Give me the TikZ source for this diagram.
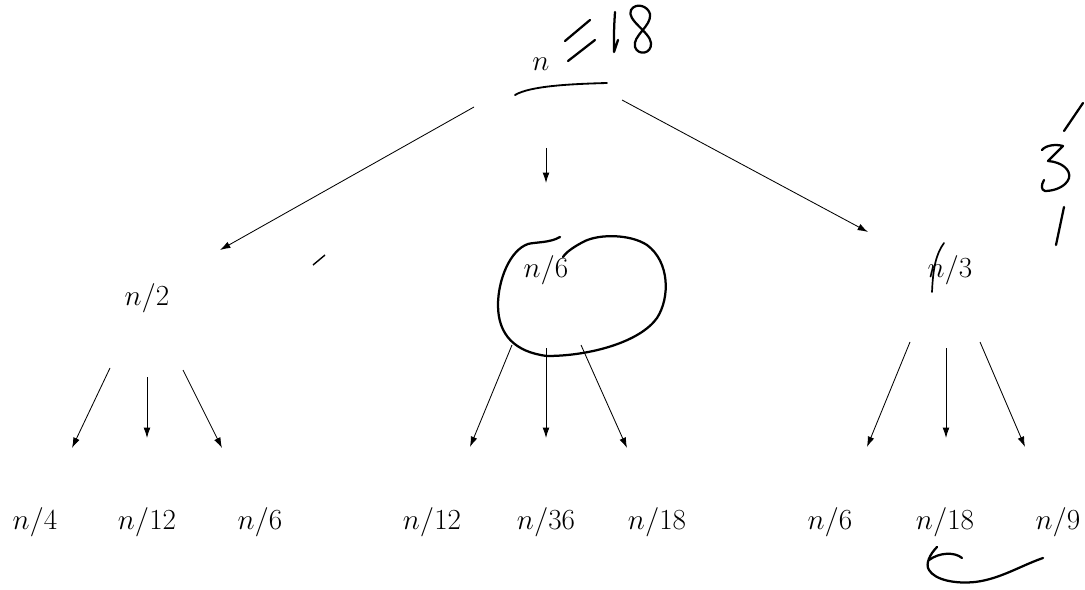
\documentclass[tikz,border=0pt]{standalone}
\usetikzlibrary{arrows.meta}
\begin{document}
\begin{tikzpicture}[x=0.025cm,y=-0.025cm,
  lbl/.style={inner sep=1pt,font=\fontsize{20.5}{24}\selectfont},
  arr/.style={-{Latex[length=2.6mm,width=1.7mm]},line width=0.6pt},
  pen/.style={line width=1.6pt,line cap=round,line join=round}]
\path[use as bounding box] (0,0) rectangle (1085,590);
% nodes
\node[lbl] (root) at (541,64) {$n$};
\node[lbl] (a) at (147,298) {$n/2$};
\node[lbl] (b) at (546,270) {$n/6$};
\node[lbl] (c) at (950,270) {$n/3$};
\node[lbl] (a1) at (35,522) {$n/4$};
\node[lbl] (a2) at (147,522) {$n/12$};
\node[lbl] (a3) at (260,522) {$n/6$};
\node[lbl] (b1) at (432,522) {$n/12$};
\node[lbl] (b2) at (546,522) {$n/36$};
\node[lbl] (b3) at (657,522) {$n/18$};
\node[lbl] (c1) at (830,522) {$n/6$};
\node[lbl] (c2) at (945,522) {$n/18$};
\node[lbl] (c3) at (1058,522) {$n/9$};
% arrow end coordinates
\coordinate (r1s) at (474,107); \coordinate (r1e) at (220,250);
\coordinate (r2s) at (546,148); \coordinate (r2e) at (546,183);
\coordinate (r3s) at (622,100); \coordinate (r3e) at (868,232);
\coordinate (a1s) at (110,368); \coordinate (a1e) at (72,448);
\coordinate (a2s) at (147,377); \coordinate (a2e) at (147,438);
\coordinate (a3s) at (183,370); \coordinate (a3e) at (222,448);
\coordinate (b1s) at (512,345); \coordinate (b1e) at (470,447);
\coordinate (b2s) at (546,348); \coordinate (b2e) at (546,438);
\coordinate (b3s) at (581,345); \coordinate (b3e) at (627,448);
\coordinate (c1s) at (910,342); \coordinate (c1e) at (867,447);
\coordinate (c2s) at (946,348); \coordinate (c2e) at (946,438);
\coordinate (c3s) at (980,342); \coordinate (c3e) at (1025,447);
\foreach \s in {r1,r2,r3,a1,a2,a3,b1,b2,b3,c1,c2,c3}
  \draw[arr] (\s s) -- (\s e);
% handwriting: "= 18"
\draw[pen] (565,41) -- (590,20);
\draw[pen] (568,61) -- (595,40);
\draw[pen] (615,12) .. controls (614,28) .. (614,52) -- (618,40);
\draw[pen] (650,14) .. controls (648,6) and (636,2) .. (631,10)
  .. controls (626,20) and (650,32) .. (651,43)
  .. controls (652,54) and (638,56) .. (635,47)
  .. controls (632,36) and (652,26) .. (650,14);
% underline under n
\draw[pen,line width=1.3pt] (515,95) .. controls (530,86) and (570,84) .. (607,83);
% small stroke
\draw[line width=1pt] (313,265) -- (325,255);
% loop around n/6
\draw[pen] (560,237) .. controls (550,243) and (535,242) .. (528,244)
  .. controls (510,250) and (498,280) .. (498,305)
  .. controls (498,335) and (515,352) .. (547,356)
  .. controls (590,356) and (640,342) .. (657,318)
  .. controls (670,298) and (670,262) .. (647,245)
  .. controls (630,234) and (600,234) .. (585,241)
  .. controls (575,246) and (566,252) .. (563,257);
% strike through n of n/3
\draw[pen,line width=1.2pt] (944,243) .. controls (936,254) and (933,268) .. (932,292);
% "3" on the right
\draw[pen] (1083,103) -- (1064,131);
\draw[pen] (1042,150) .. controls (1046,145) and (1056,144) .. (1063,146)
  -- (1048,161)
  .. controls (1062,162) and (1071,170) .. (1069,178)
  .. controls (1066,187) and (1054,191) .. (1045,191)
  .. controls (1041,190) and (1041,185) .. (1044,180);
\draw[pen] (1064,207) -- (1056,245);
% curved arrow under n/18
\draw[pen] (937,547) .. controls (930,554) and (925,564) .. (929,570)
  .. controls (935,580) and (955,584) .. (975,582)
  .. controls (1000,579) and (1020,566) .. (1043,558);
\draw[pen] (929,560) .. controls (940,552) and (955,552) .. (962,558);
\end{tikzpicture}
\end{document}
